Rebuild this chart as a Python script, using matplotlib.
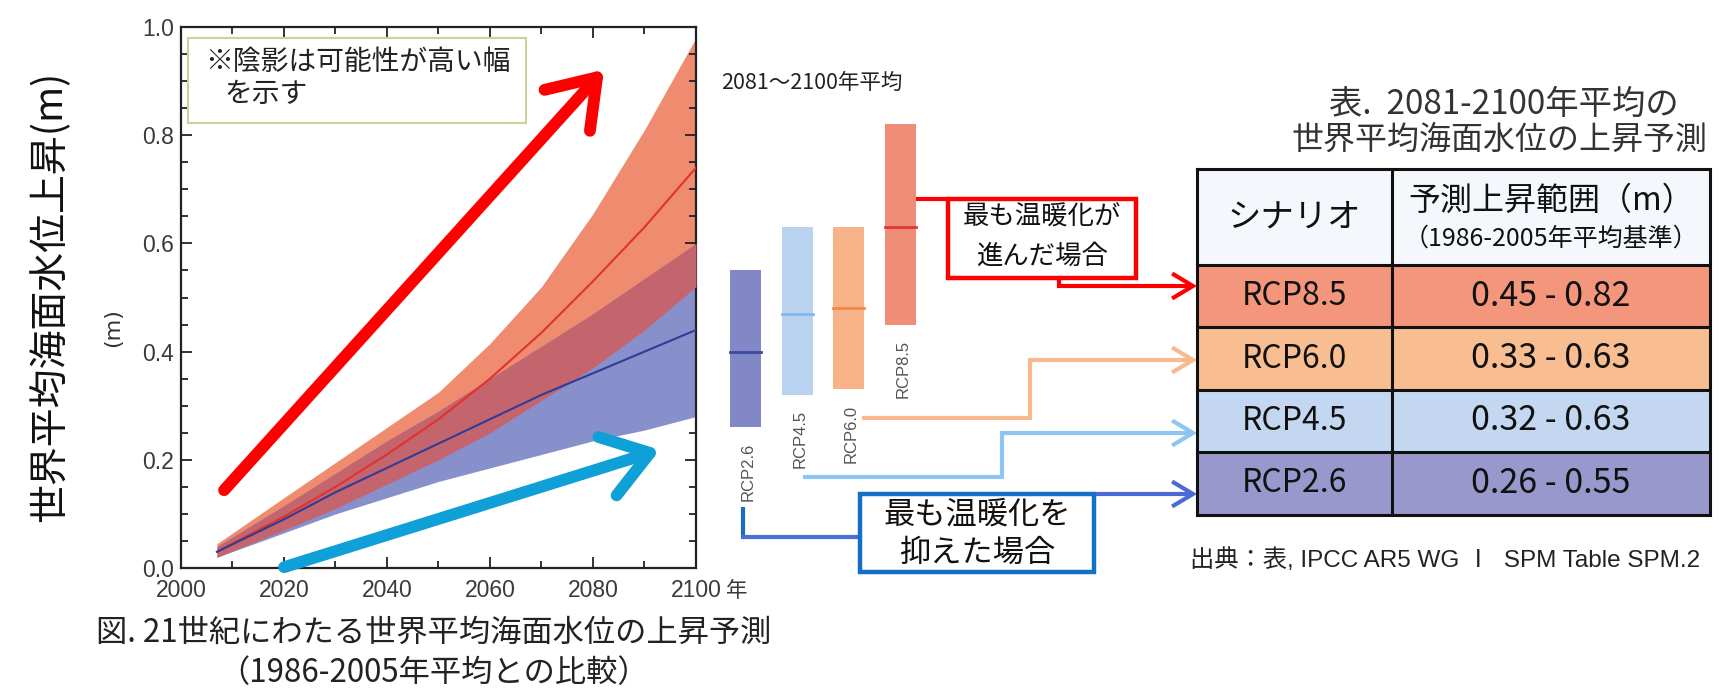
import matplotlib
matplotlib.use("Agg")
import matplotlib.pyplot as plt
import numpy as np
from matplotlib.patches import Rectangle, FancyArrowPatch
from matplotlib.path import Path

# ---------------- data ----------------
years = [2007, 2020, 2030, 2040, 2050, 2060, 2070, 2080, 2090, 2100]
rcp85_med = [0.03, 0.095, 0.15, 0.21, 0.275, 0.35, 0.435, 0.53, 0.63, 0.74]
rcp85_lo = [0.02, 0.07, 0.11, 0.155, 0.20, 0.25, 0.31, 0.37, 0.44, 0.52]
rcp85_hi = [0.045, 0.13, 0.195, 0.26, 0.325, 0.415, 0.52, 0.655, 0.81, 0.98]
rcp26_med = [0.03, 0.09, 0.14, 0.185, 0.23, 0.275, 0.32, 0.36, 0.40, 0.44]
rcp26_lo = [0.02, 0.065, 0.10, 0.13, 0.16, 0.185, 0.21, 0.235, 0.255, 0.28]
rcp26_hi = [0.04, 0.115, 0.175, 0.235, 0.29, 0.35, 0.41, 0.47, 0.535, 0.60]

scen_names = ["RCP2.6", "RCP4.5", "RCP6.0", "RCP8.5"]
scen_lo = [0.26, 0.32, 0.33, 0.45]
scen_hi = [0.55, 0.63, 0.63, 0.82]
scen_med = [0.40, 0.47, 0.48, 0.63]

table_order = ["RCP8.5", "RCP6.0", "RCP4.5", "RCP2.6"]

xticks = [2000, 2020, 2040, 2060, 2080, 2100]
yticks = [0.0, 0.2, 0.4, 0.6, 0.8, 1.0]

# ---------------- styles ----------------
NUM = "Liberation Sans"
JP = "Noto Sans CJK JP"
plt.rcParams["font.family"] = [JP, "DejaVu Sans"]

C_RED_BAND = "#ef8c6f"
C_BLUE_BAND = "#8890cc"
C_OVER = "#c4646d"
bar_fill = {"RCP2.6": "#8288c6", "RCP4.5": "#b9d2f0", "RCP6.0": "#f8b287", "RCP8.5": "#f08d76"}
bar_med = {"RCP2.6": "#3b4aa2", "RCP4.5": "#86b8e8", "RCP6.0": "#f08a46", "RCP8.5": "#e0353a"}
row_fill = {"RCP8.5": "#f3967c", "RCP6.0": "#f8bd91", "RCP4.5": "#c3d8f0", "RCP2.6": "#9898cc"}

W, H = 1724, 696
fig = plt.figure(figsize=(W / 100, H / 100), dpi=100)

def fx(px):
    return px / W

def fy(py):
    return 1 - py / H

# ---------------- main chart ----------------
L, R, T, B = 181, 696, 27, 568
ax = fig.add_axes([fx(L), fy(B), fx(R - L), (B - T) / H])
ax.set_xlim(2000, 2100)
ax.set_ylim(0, 1.0)

ax.fill_between(years, rcp85_lo, rcp85_hi, color=C_RED_BAND, lw=0, zorder=1)
ax.fill_between(years, rcp26_lo, rcp26_hi, color=C_BLUE_BAND, lw=0, zorder=2)
ov_lo = np.maximum(rcp85_lo, rcp26_lo)
ov_hi = np.minimum(rcp85_hi, rcp26_hi)
ax.fill_between(years, ov_lo, ov_hi, where=ov_hi > ov_lo, color=C_OVER, lw=0, zorder=3)
ax.plot(years, rcp85_med, color="#e2322c", lw=1.5, zorder=4)
ax.plot(years, rcp26_med, color="#2f3c98", lw=1.5, zorder=4)

ax.set_xticks(xticks)
ax.set_xticks(np.arange(2000, 2101, 10), minor=True)
ax.set_yticks(yticks)
ax.set_yticks(np.arange(0, 1.001, 0.05), minor=True)
ax.set_xticklabels([str(v) for v in xticks], fontfamily=NUM, fontsize=16.5)
ax.set_yticklabels([f"{v:.1f}" for v in yticks], fontfamily=NUM, fontsize=16.5)
ax.tick_params(which="both", direction="in", top=True, right=True, width=1.3, colors="#222222",
               labelcolor="#3a3a3a")
ax.tick_params(which="major", length=8)
ax.tick_params(axis="x", which="major", pad=8)
ax.tick_params(axis="y", which="major", pad=5)
ax.tick_params(which="minor", length=5)
for s in ax.spines.values():
    s.set_linewidth(1.6)
    s.set_color("#222222")

# note box
ax.add_patch(Rectangle((0.014, 0.822), 0.655, 0.158, transform=ax.transAxes,
                       facecolor="white", edgecolor="#c4d59c", lw=1.5, zorder=6))
ax.text(0.046, 0.935, "※陰影は可能性が高い幅", transform=ax.transAxes, fontsize=20,
        va="center", ha="left", color="#222222", zorder=7)
ax.text(0.084, 0.877, "を示す", transform=ax.transAxes, fontsize=20,
        va="center", ha="left", color="#222222", zorder=7)

# big trend arrows
ax.add_patch(FancyArrowPatch((2008, 0.14), (2082.5, 0.925),
                             arrowstyle="->,head_length=0.8,head_width=0.55",
                             mutation_scale=40, lw=8.5, color="#fe0000",
                             capstyle="round", joinstyle="round", zorder=8))
ax.add_patch(FancyArrowPatch((2019.5, 0.0), (2093.5, 0.22),
                             arrowstyle="->,head_length=0.8,head_width=0.55",
                             mutation_scale=40, lw=8.5, color="#0fa0d8",
                             capstyle="round", joinstyle="round", zorder=8, clip_on=False))

fig.text(fx(737), fy(591), "年", fontsize=15.5, ha="center", va="center", color="#3a3a3a")
fig.text(fx(113), fy(328), "(m)", fontsize=16, rotation=90, ha="center", va="center",
         family="Liberation Sans Narrow", color="#333333")
fig.text(fx(50), fy(296), "世界平均海面水位上昇(m)", fontsize=28, rotation=90,
         ha="center", va="center", color="#111111")
fig.text(fx(434), fy(633), "図. 21世紀にわたる世界平均海面水位の上昇予測", fontsize=22.5,
         ha="center", va="center", color="#222222")
fig.text(fx(434), fy(673), "（1986-2005年平均との比較）", fontsize=22.5,
         ha="center", va="center", color="#222222")

# ---------------- 2081-2100 bars ----------------
axb = fig.add_axes([fx(720), fy(B), fx(206), (B - T) / H])
axb.set_xlim(-0.5, 3.5)
axb.set_ylim(0, 1.0)
axb.axis("off")
xs = np.arange(len(scen_names))
for i, n in enumerate(scen_names):
    axb.bar(xs[i], scen_hi[i] - scen_lo[i], bottom=scen_lo[i], width=0.6,
            color=bar_fill[n], lw=0)
    axb.plot([xs[i] - 0.3, xs[i] + 0.3], [scen_med[i]] * 2, color=bar_med[n], lw=2)
    axb.annotate(n, (xs[i] + 0.05, scen_lo[i]), xytext=(0, -11), textcoords="offset points",
                 rotation=90, ha="center", va="top", fontsize=12, family="Liberation Sans",
                 color="#555555")
fig.text(fx(721), fy(83), "2081～2100年平均", fontsize=15.5, ha="left", va="center",
         color="#222222")

# ---------------- overlay: connectors, boxes, table ----------------
ov = fig.add_axes([0, 0, 1, 1])
ov.set_xlim(0, W)
ov.set_ylim(H, 0)
ov.axis("off")
ov.patch.set_alpha(0)

def conn(pts, color, arrow=True, lw=3):
    codes = [Path.MOVETO] + [Path.LINETO] * (len(pts) - 1)
    style = "->,head_length=0.75,head_width=0.45" if arrow else "-"
    ov.add_patch(FancyArrowPatch(path=Path(pts, codes), arrowstyle=style, mutation_scale=20,
                                 lw=lw, color=color, capstyle="butt", joinstyle="miter",
                                 shrinkA=0, shrinkB=0))

# red
conn([(916, 199), (948, 199)], "#fe0000", arrow=False)
conn([(1059, 278), (1059, 286), (1197, 286)], "#fe0000")
ov.add_patch(Rectangle((948, 199), 188, 79, facecolor="white", edgecolor="#fe0000", lw=3.2))
ov.text(1042, 217, "最も温暖化が", fontsize=19, ha="center", va="center", color="#111111")
ov.text(1042, 256, "進んだ場合", fontsize=19, ha="center", va="center", color="#111111")
# orange
conn([(862, 418), (1030, 418), (1030, 360), (1197, 360)], "#f9b98e")
# light blue
conn([(803, 477), (1002, 477), (1002, 433), (1197, 433)], "#8cc4f4")
# blue
conn([(743, 507), (743, 537)], "#1a6cc8", arrow=False)
conn([(741, 537), (860, 537)], "#4a6ed8", arrow=False)
conn([(1094, 494), (1197, 494)], "#4a6ad8")
ov.add_patch(Rectangle((860, 494), 234, 78, facecolor="white", edgecolor="#1470c4", lw=3.2))
ov.text(977, 515, "最も温暖化を", fontsize=22.5, ha="center", va="center", color="#111111")
ov.text(977, 553, "抑えた場合", fontsize=22.5, ha="center", va="center", color="#111111")

# table
TL, TC, TR = 1197, 1392, 1710
row_y = [169, 265, 327, 390, 452, 515]
ov.add_patch(Rectangle((TL, row_y[0]), TR - TL, row_y[1] - row_y[0], facecolor="#f4f8fc",
                       edgecolor="none"))
lookup = {n: i for i, n in enumerate(scen_names)}
for k, n in enumerate(table_order):
    y0, y1 = row_y[k + 1], row_y[k + 2]
    ov.add_patch(Rectangle((TL, y0), TR - TL, y1 - y0, facecolor=row_fill[n], edgecolor="none"))
    i = lookup[n]
    ov.text((TL + TC) / 2, (y0 + y1) / 2, n, fontsize=23, ha="center", va="center",
            color="#111111")
    ov.text((TC + TR) / 2, (y0 + y1) / 2, f"{scen_lo[i]:.2f} - {scen_hi[i]:.2f}", fontsize=24.5,
            ha="center", va="center", color="#111111")
for y in row_y:
    ov.plot([TL, TR], [y, y], color="#111111", lw=2.2, solid_capstyle="projecting")
for x in (TL, TC, TR):
    ov.plot([x, x], [row_y[0], row_y[-1]], color="#111111", lw=2.2, solid_capstyle="projecting")
ov.text((TL + TC) / 2, 217, "シナリオ", fontsize=24, ha="center", va="center", color="#111111")
ov.text((TC + TR) / 2, 201, "予測上昇範囲（m）", fontsize=23, ha="center", va="center",
        color="#111111")
ov.text((TC + TR) / 2, 239, "（1986-2005年平均基準）", fontsize=18, ha="center", va="center",
        color="#111111")
ov.text(1504, 104, "表.  2081-2100年平均の", fontsize=24, ha="center", va="center",
        color="#333333")
ov.text(1500, 140, "世界平均海面水位の上昇予測", fontsize=23, ha="center", va="center",
        color="#333333")
ov.text(1190, 560, "出典：表, IPCC AR5 WG Ⅰ  SPM Table SPM.2", fontsize=17.5, ha="left",
        va="center", family=["Liberation Sans", JP], color="#222222")

fig.savefig("out.png", dpi=100, facecolor="white")
